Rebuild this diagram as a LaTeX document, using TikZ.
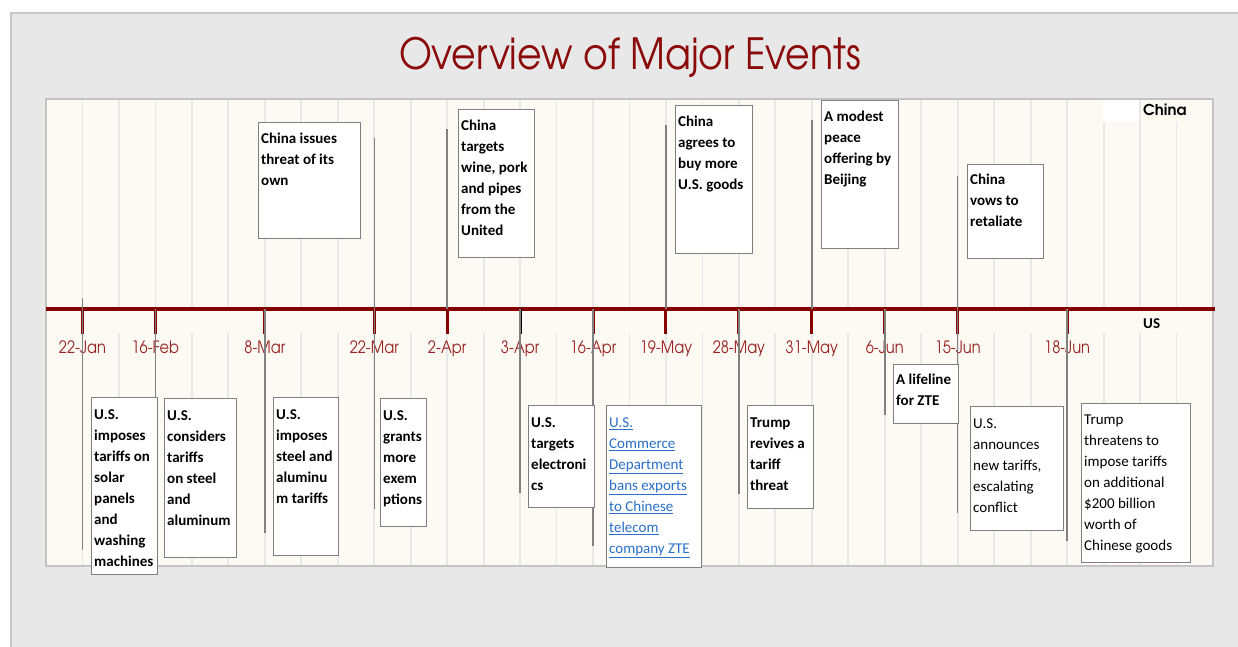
\documentclass[tikz,border=0pt]{standalone}
\usepackage{fontspec}
\setmainfont{Carlito}
\newfontfamily\gothic{texgyreadventor}[Extension=.otf, UprightFont=*-regular, BoldFont=*-bold]
\newfontfamily\gothictitle{texgyreadventor}[Extension=.otf, UprightFont=*-regular, FakeStretch=0.88]
\newfontfamily\gothicdate{texgyreadventor}[Extension=.otf, UprightFont=*-regular, FakeStretch=0.86]
\usetikzlibrary{calc}
\definecolor{panelbg}{HTML}{E8E8E8}
\definecolor{panelborder}{HTML}{C8C8C8}
\definecolor{cream}{HTML}{FDFAF3}
\definecolor{plotborder}{HTML}{C3C3C3}
\definecolor{gridc}{HTML}{E8E8E8}
\definecolor{axisred}{HTML}{870000}
\definecolor{datered}{HTML}{992222}
\definecolor{titlered}{HTML}{8B0A0A}
\definecolor{conngray}{HTML}{808080}
\definecolor{boxgray}{HTML}{7F7F7F}
\definecolor{linkblue}{HTML}{2A6FC9}
\tikzset{
  gridline/.style={draw=gridc, line width=1.8pt},
  axisline/.style={draw=axisred, line width=4.5pt},
  ticked/.style={draw=axisred, line width=3pt},
  conn/.style={draw=conngray, line width=1.4pt},
  evbox/.style={draw=boxgray, fill=white, line width=1.3pt, rectangle, inner sep=0pt, anchor=north west},
  evtext/.style={inner sep=0pt, anchor=north west, align=left, font=\fontsize{15}{21}\selectfont\bfseries, text=black},
  evtextreg/.style={inner sep=0pt, anchor=north west, align=left, font=\fontsize{15}{21}\selectfont, text=black},
  datelab/.style={anchor=base, inner sep=0pt, text=datered, font=\gothicdate\fontsize{17}{17}\selectfont},
}
\newcommand{\fl}{\rule{0pt}{15pt}}
\newcommand{\ul}[1]{\underline{#1}}
\begin{document}
\begin{tikzpicture}[x=1pt,y=-1pt]
\useasboundingbox (0,0) rectangle (1238,647);
\fill[white] (0,0) rectangle (1238,647);
\draw[draw=panelborder, fill=panelbg, line width=2pt] (11,13) rectangle (1260,670);
\node[anchor=base, inner sep=0pt, text=titlered, font=\gothictitle\fontsize{43}{43}\selectfont] (title) at (630,70) {Overview of Major Events};
% plot area
\draw[draw=plotborder, fill=cream, line width=2pt] (46,99) rectangle (1213,566);
\foreach \k in {1,...,31}{
  \pgfmathsetmacro{\xx}{46+\k*36.469}
  \draw[gridline] (\xx,100) -- (\xx,309);
  \draw[gridline] (\xx,333) -- (\xx,565);
}
% China / US labels
\fill[white] (1103,100) rectangle (1139,122);
\fill[cream] (1141,100) rectangle (1212,122);
\node[anchor=base west, inner sep=0pt, font=\gothic\bfseries\fontsize{15}{15}\selectfont] (china) at (1143,116) {China};
\node[anchor=base west, inner sep=0pt, font=\bfseries\fontsize{15}{15}\selectfont] (us) at (1143,328) {US};
% axis
\coordinate (axL) at (46,309);
\coordinate (axR) at (1215,309);
\draw[axisline] (axL) -- (axR);
% ticks and dates
\foreach \k/\nm/\lab in {1/d1/22-Jan,3/d2/16-Feb,6/d3/8-Mar,9/d4/22-Mar,11/d5/2-Apr,13/d6/3-Apr,15/d7/16-Apr,17/d8/19-May,19/d9/28-May,21/d10/31-May,23/d11/6-Jun,25/d12/15-Jun,28/d13/18-Jun}{
  \pgfmathsetmacro{\xx}{46+\k*36.469}
  \coordinate (\nm) at (\xx,309);
  \coordinate (\nm b) at (\xx,334);
  \node[datelab] (\nm l) at (\xx,353) {\lab};
}
\foreach \nm in {d1,d2,d3,d4,d5,d7,d8,d9,d10,d11,d12,d13}{
  \draw[ticked] (\nm) -- (\nm b);
}
\draw[draw=black, line width=3pt] (d6) -- (d6b);
% connector ends
\coordinate (e1t) at ($(d1)+(0,-11)$);   \coordinate (e1b) at ($(d1)+(0,241)$);
\coordinate (e2b) at ($(d2)+(0,88)$);
\coordinate (e3b) at ($(d3)+(0,224)$);
\coordinate (e4t) at ($(d4)+(0,-171)$);  \coordinate (e4b) at ($(d4)+(0,200)$);
\coordinate (e5t) at ($(d5)+(0,-180)$);
\coordinate (e6b) at ($(d6)+(0,184)$);
\coordinate (e7b) at ($(d7)+(0,237)$);
\coordinate (e8t) at ($(d8)+(0,-184)$);
\coordinate (e9b) at ($(d9)+(0,185)$);
\coordinate (e10t) at ($(d10)+(0,-189)$);
\coordinate (e11b) at ($(d11)+(0,106)$);
\coordinate (e12t) at ($(d12)+(0,-133)$); \coordinate (e12b) at ($(d12)+(0,204)$);
\coordinate (e13b) at ($(d13)+(0,232)$);
\draw[conn] (e1t) -- (e1b);
\draw[conn] (d2) -- (e2b);
\draw[conn] (d3) -- (e3b);
\draw[conn] (e4t) -- (e4b);
\draw[conn] (e5t) -- (d5);
\draw[conn] (d6) -- (e6b);
\draw[conn] (d7) -- (e7b);
\draw[conn] (e8t) -- (d8);
\draw[conn] (d9) -- (e9b);
\draw[conn] (e10t) -- (d10);
\draw[conn] (d11) -- (e11b);
\draw[conn] (e12t) -- (e12b);
\draw[conn] (d13) -- (e13b);
% China boxes
\node[evbox, minimum width=102pt, minimum height=116pt] (c1) at (258,122) {};
\node[evtext] at ([shift={(3,6)}]c1.north west) {\fl China issues\\threat of its\\own};
\node[evbox, minimum width=76pt, minimum height=148pt] (c2) at (458,109) {};
\node[evtext] at ([shift={(3,6)}]c2.north west) {\fl China\\targets\\wine, pork\\and pipes\\from the\\United};
\node[evbox, minimum width=77pt, minimum height=148pt] (c3) at (675,105) {};
\node[evtext] at ([shift={(3,6)}]c3.north west) {\fl China\\agrees to\\buy more\\U.S. goods};
\node[evbox, minimum width=77pt, minimum height=148pt] (c4) at (821,100) {};
\node[evtext] at ([shift={(3,6)}]c4.north west) {\fl A modest\\peace\\offering by\\Beijing};
\node[evbox, minimum width=76pt, minimum height=94pt] (c5) at (967,164) {};
\node[evtext] at ([shift={(3,5)}]c5.north west) {\fl China\\vows to\\retaliate};
% US boxes
\node[evbox, minimum width=66pt, minimum height=177pt] (u1) at (91,397) {};
\node[evtext] at ([shift={(3,7)}]u1.north west) {\fl U.S.\\imposes\\tariffs on\\solar\\panels\\and\\washing\\machines};
\node[evbox, minimum width=72pt, minimum height=159pt] (u2) at (164,398) {};
\node[evtext] at ([shift={(3,7)}]u2.north west) {\fl U.S.\\considers\\tariffs\\on steel\\and\\aluminum};
\node[evbox, minimum width=65pt, minimum height=158pt] (u3) at (273,397) {};
\node[evtext] at ([shift={(3,7)}]u3.north west) {\fl U.S.\\imposes\\steel and\\aluminu\\m tariffs};
\node[evbox, minimum width=46pt, minimum height=128pt] (u4) at (380,398) {};
\node[evtext] at ([shift={(3,7)}]u4.north west) {\fl U.S.\\grants\\more\\exem\\ptions};
\node[evbox, minimum width=66pt, minimum height=102pt] (u5) at (528,405) {};
\node[evtext] at ([shift={(3,7)}]u5.north west) {\fl U.S.\\targets\\electroni\\cs};
\node[evbox, minimum width=95pt, minimum height=162pt] (u6) at (606,405) {};
\node[evtextreg, text=linkblue] at ([shift={(3,7)}]u6.north west) {\fl\ul{U.S.}\\\ul{Commerce}\\\ul{Department}\\\ul{bans exports}\\\ul{to Chinese}\\\ul{telecom}\\\ul{company ZTE}};
\node[evbox, minimum width=66pt, minimum height=103pt] (u7) at (747,405) {};
\node[evtext] at ([shift={(3,7)}]u7.north west) {\fl Trump\\revives a\\tariff\\threat};
\node[evbox, minimum width=65pt, minimum height=59pt] (u8) at (893,364) {};
\node[evtext] at ([shift={(3,5)}]u8.north west) {\fl A lifeline\\for ZTE};
\node[evbox, minimum width=93pt, minimum height=124pt] (u9) at (970,406) {};
\node[evtextreg] at ([shift={(3,7)}]u9.north west) {\fl U.S.\\announces\\new tariffs,\\escalating\\conflict};
\node[evbox, minimum width=109pt, minimum height=159pt] (u10) at (1081,403) {};
\node[evtextreg] at ([shift={(3,6)}]u10.north west) {\fl Trump\\threatens to\\impose tariffs\\on additional\\\$200 billion\\worth of\\Chinese goods};
\end{tikzpicture}
\end{document}
